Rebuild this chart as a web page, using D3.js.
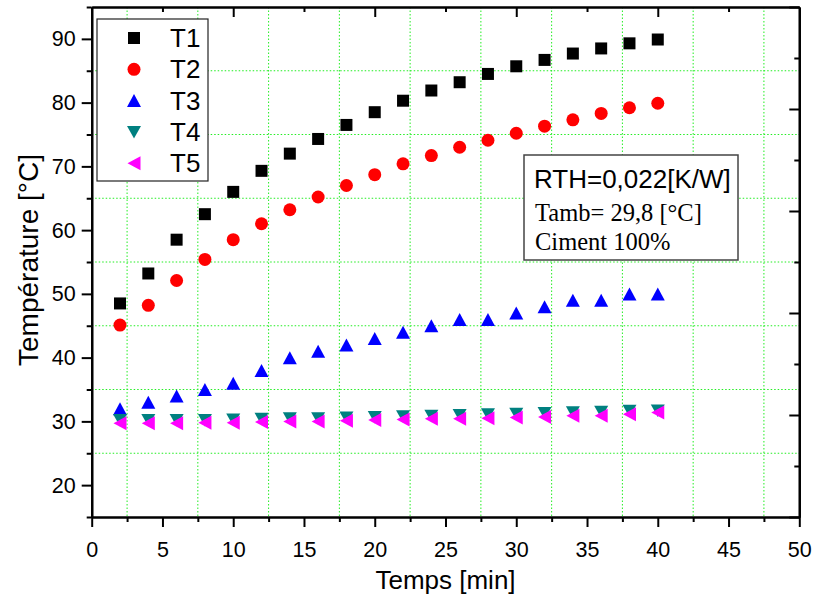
<!DOCTYPE html>
<html>
<head>
<meta charset="utf-8">
<script src="https://cdn.jsdelivr.net/npm/d3@7"></script>
<style>
  html, body { margin: 0; padding: 0; background: #fff; }
  svg { display: block; }
  .tick text { font-family: "Liberation Sans", Arial, sans-serif; }
</style>
</head>
<body>
<svg id="chart" width="813" height="603"></svg>
<script>
// ---- data ----
const time = [2, 4, 6, 8, 10, 12, 14, 16, 18, 20, 22, 24, 26, 28, 30, 32, 34, 36, 38, 40];
const T1 = [48.5, 53.2, 58.5, 62.5, 66.0, 69.3, 72.0, 74.3, 76.5, 78.5, 80.3, 81.9, 83.2, 84.5, 85.7, 86.7, 87.7, 88.5, 89.3, 89.9];
const T2 = [45.1, 48.2, 52.1, 55.4, 58.5, 61.0, 63.2, 65.2, 67.0, 68.7, 70.4, 71.7, 73.0, 74.1, 75.2, 76.3, 77.3, 78.3, 79.2, 79.9];
const T3 = [32.0, 33.0, 34.0, 35.0, 36.0, 38.0, 40.0, 41.0, 42.0, 43.0, 44.0, 45.0, 46.0, 46.0, 47.0, 48.0, 49.0, 49.0, 50.0, 50.0];
const T4 = [30.2, 30.2, 30.2, 30.2, 30.3, 30.4, 30.5, 30.5, 30.6, 30.7, 30.8, 30.9, 31.0, 31.1, 31.2, 31.3, 31.45, 31.5, 31.65, 31.7];
const T5 = [29.7, 29.7, 29.7, 29.8, 29.8, 29.9, 30.0, 30.0, 30.1, 30.2, 30.3, 30.4, 30.4, 30.5, 30.6, 30.7, 30.9, 30.9, 31.1, 31.4];
const seriesNames = ["T1", "T2", "T3", "T4", "T5"];
const seriesColors = ["#000000", "#ff0000", "#0000ff", "#008080", "#ff00ff"];
const seriesShapes = ["square", "circle", "up", "down", "left"];

const xMajorTicks = [0, 5, 10, 15, 20, 25, 30, 35, 40, 45, 50];
const xMinorTicks = [2.5, 7.5, 12.5, 17.5, 22.5, 27.5, 32.5, 37.5, 42.5, 47.5];
const yMajorTicks = [20, 30, 40, 50, 60, 70, 80, 90];
const yMinorTicks = [15, 25, 35, 45, 55, 65, 75, 85, 95];
const xGrid = [2.5, 7.5, 12.5, 17.5, 22.5, 27.5, 32.5, 37.5, 42.5, 47.5];
const yGrid = [25, 35, 45, 55, 65, 75, 85];
const topMajorTicks = [10, 20, 30, 40];
const topMinorTicks = [5, 15, 25, 35, 45];
const rightMajorTicks = [0, 1, 2, 3, 4, 5];
const rightMinorTicks = [0.5, 1.5, 2.5, 3.5, 4.5];

const xTitle = "Temps [min]";
const yTitle = "Température [°C]";
const noteLines = ["RTH=0,022[K/W]", "Tamb= 29,8 [°C]", "Ciment 100%"];

// ---- layout ----
const pLeft = 91.7, pRight = 799.3, pTop = 7, pBottom = 517;
const svg = d3.select("#chart");

const x = d3.scaleLinear().domain([0, 50]).range([pLeft, pRight]);
const y = d3.scaleLinear().domain([15, 95]).range([pBottom, pTop]);
const yR = d3.scaleLinear().domain([0, 5]).range([pBottom, pTop]);

// grid
const grid = svg.append("g");
grid.selectAll("line.gx").data(xGrid).enter().append("line")
  .attr("x1", d => x(d)).attr("x2", d => x(d)).attr("y1", pTop).attr("y2", pBottom)
  .attr("stroke", "#22ee22").attr("stroke-width", 1).attr("stroke-dasharray", "1.5,2");
grid.selectAll("line.gy").data(yGrid).enter().append("line")
  .attr("x1", pLeft).attr("x2", pRight).attr("y1", d => y(d)).attr("y2", d => y(d))
  .attr("stroke", "#22ee22").attr("stroke-width", 1).attr("stroke-dasharray", "1.5,2");

// axes
function styleAxis(g, width) {
  g.select(".domain").attr("stroke", "#000").attr("stroke-width", width);
  g.selectAll(".tick line").attr("stroke", "#000").attr("stroke-width", 2);
}
const fontTick = "21.5px";

const gb = svg.append("g").attr("transform", `translate(0,${pBottom})`)
  .call(d3.axisBottom(x).tickValues(xMajorTicks).tickSize(10).tickSizeOuter(0).tickPadding(15).tickFormat(d3.format("d")));
styleAxis(gb, 2.2);
gb.selectAll(".tick text").attr("font-size", fontTick).attr("fill", "#000");
const gbm = svg.append("g").attr("transform", `translate(0,${pBottom})`)
  .call(d3.axisBottom(x).tickValues(xMinorTicks).tickSize(5).tickSizeOuter(0).tickFormat(""));
styleAxis(gbm, 2.2);

const gl = svg.append("g").attr("transform", `translate(${pLeft},0)`)
  .call(d3.axisLeft(y).tickValues(yMajorTicks).tickSize(10).tickSizeOuter(0).tickPadding(6).tickFormat(d3.format("d")));
styleAxis(gl, 2.2);
gl.selectAll(".tick text").attr("font-size", fontTick).attr("fill", "#000");
const glm = svg.append("g").attr("transform", `translate(${pLeft},0)`)
  .call(d3.axisLeft(y).tickValues(yMinorTicks).tickSize(5).tickSizeOuter(0).tickFormat(""));
styleAxis(glm, 2.2);

const gt = svg.append("g").attr("transform", `translate(0,${pTop})`)
  .call(d3.axisTop(x).tickValues(topMajorTicks).tickSize(-10).tickSizeOuter(0).tickFormat(""));
styleAxis(gt, 2.2);
const gtm = svg.append("g").attr("transform", `translate(0,${pTop})`)
  .call(d3.axisTop(x).tickValues(topMinorTicks).tickSize(-5).tickSizeOuter(0).tickFormat(""));
styleAxis(gtm, 2.2);

const gr = svg.append("g").attr("transform", `translate(${pRight},0)`)
  .call(d3.axisRight(yR).tickValues(rightMajorTicks).tickSize(-10).tickSizeOuter(0).tickFormat(""));
styleAxis(gr, 2.2);
const grm = svg.append("g").attr("transform", `translate(${pRight},0)`)
  .call(d3.axisRight(yR).tickValues(rightMinorTicks).tickSize(-5).tickSizeOuter(0).tickFormat(""));
styleAxis(grm, 2.2);

// axis titles
svg.append("text").attr("x", (pLeft + pRight) / 2).attr("y", 589)
  .attr("text-anchor", "middle").attr("font-family", "Liberation Sans, Arial, sans-serif")
  .attr("font-size", "26px").attr("fill", "#000").text(xTitle);
svg.append("text").attr("transform", `translate(38,260) rotate(-90)`)
  .attr("text-anchor", "middle").attr("font-family", "Liberation Sans, Arial, sans-serif")
  .attr("font-size", "28px").attr("fill", "#000").text(yTitle);

// marker shapes
function shapePath(shape) {
  switch (shape) {
    case "square": return "M-6,-6H6V6H-6Z";
    case "circle": return "M-6.5,0A6.5,6.5 0 1,0 6.5,0A6.5,6.5 0 1,0 -6.5,0Z";
    case "up": return "M0,-6.5L7,6.5L-7,6.5Z";
    case "down": return "M-7,-6L7,-6L0,6.5Z";
    case "left": return "M-6.5,0L6.5,-7L6.5,7Z";
  }
}

const allSeries = [T1, T2, T3, T4, T5];
allSeries.forEach((vals, i) => {
  svg.append("g").selectAll("path").data(time.map((t, j) => [t, vals[j]])).enter().append("path")
    .attr("transform", d => `translate(${x(d[0])},${y(d[1])})`)
    .attr("d", shapePath(seriesShapes[i]))
    .attr("fill", seriesColors[i]);
});

// legend
const lg = svg.append("g");
lg.append("rect").attr("x", 97).attr("y", 19).attr("width", 111).attr("height", 162)
  .attr("fill", "#fff").attr("stroke", "#222").attr("stroke-width", 1.2);
seriesNames.forEach((name, i) => {
  const cy = 38 + i * 31.3;
  lg.append("path").attr("transform", `translate(134,${cy})`)
    .attr("d", shapePath(seriesShapes[i])).attr("fill", seriesColors[i]);
  lg.append("text").attr("x", 170).attr("y", cy + 9)
    .attr("font-family", "Liberation Sans, Arial, sans-serif").attr("font-size", "26px")
    .attr("fill", "#000").text(name);
});

// annotation box
const nb = svg.append("g");
nb.append("rect").attr("x", 524).attr("y", 155).attr("width", 214).attr("height", 105)
  .attr("fill", "#fff").attr("stroke", "#444").attr("stroke-width", 1.5);
nb.append("text").attr("x", 534).attr("y", 188)
  .attr("font-family", "Liberation Sans, Arial, sans-serif").attr("font-size", "26px")
  .attr("fill", "#000").text(noteLines[0]);
nb.append("text").attr("x", 535).attr("y", 221)
  .attr("font-family", "Liberation Serif, Times New Roman, serif").attr("font-size", "24.5px")
  .attr("fill", "#000").text(noteLines[1]);
nb.append("text").attr("x", 535).attr("y", 250)
  .attr("font-family", "Liberation Serif, Times New Roman, serif").attr("font-size", "24.5px")
  .attr("fill", "#000").text(noteLines[2]);
</script>
</body>
</html>
